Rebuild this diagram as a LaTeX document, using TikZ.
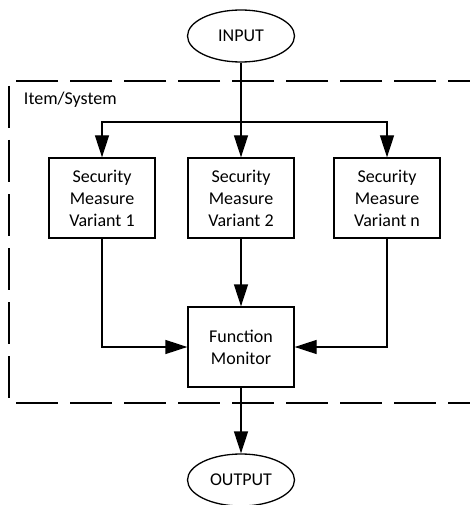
\documentclass[tikz,border=0pt]{standalone}
\usepackage{fontspec}
\setmainfont{Carlito}
\usetikzlibrary{shapes.geometric,arrows.meta}
\begin{document}
\begin{tikzpicture}[x=1pt,y=-1pt,
  line width=1.3pt,
  txt/.style={font=\fontsize{18}{22}\selectfont},
  blockbox/.style={draw,txt,rectangle,minimum width=106pt,minimum height=80pt,align=center,inner sep=0pt},
  terminal/.style={draw,txt,ellipse,minimum width=107pt,minimum height=52pt,inner sep=0pt},
  flow/.style={-{Triangle[length=22pt,width=14pt]}},
  frame/.style={dash pattern=on 42pt off 12pt}
]
\useasboundingbox (0,0) rectangle (470,505);
\clip (0,0) rectangle (470,505);

% system boundary, open on the right
\draw[frame] (490,81) -- (9,81) -- (9,403) -- (490,403);
\node[txt,anchor=west] (lbl) at (20,100) {Item/System};

% input / output
\node[terminal] (in) at (241,36) {INPUT};
\node[terminal] (out) at (241,480) {OUTPUT};

% variants
\node[blockbox] (v1) at (102,198) {Security\\Measure\\Variant 1};
\node[blockbox] (v2) at (241,198) {Security\\Measure\\Variant 2};
\node[blockbox] (vn) at (387,198) {Security\\Measure\\Variant n};

% monitor
\node[blockbox] (fm) at (241,347) {Function\\Monitor};

% fan-out
\coordinate (split) at (241,122);
\draw (in.south) -- (split);
\draw[flow] (split) -- (v2.north);
\draw[flow] (split) -| (v1.north);
\draw[flow] (split) -| (vn.north);

% fan-in
\draw[flow] (v2.south) -- (fm.north);
\draw[flow] (v1.south) |- (fm.west);
\draw[flow] (vn.south) |- (fm.east);

\draw[flow] (fm.south) -- (out.north);
\end{tikzpicture}
\end{document}
